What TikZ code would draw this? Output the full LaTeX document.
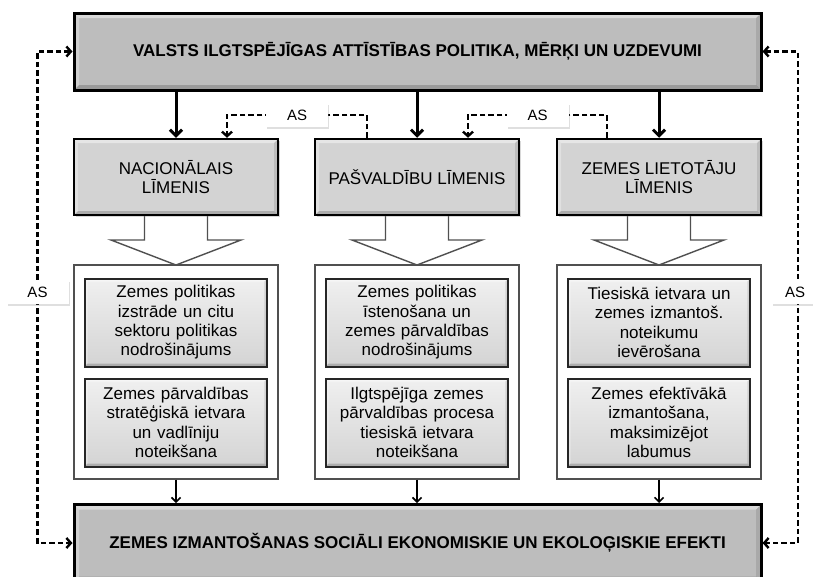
\documentclass[tikz,border=0pt]{standalone}
\usepackage{fontspec}
\setmainfont{Liberation Sans}
\usetikzlibrary{arrows.meta,shadows}
\definecolor{topgray}{HTML}{BDBDBD}
\definecolor{lvlgray}{HTML}{D3D3D3}
\definecolor{framegray}{HTML}{505050}
\tikzset{
  bevel/.style={path picture={
    \fill[white,opacity=.45] (path picture bounding box.north west) -- (path picture bounding box.north east) -- ([shift={(-#1,-#1)}]path picture bounding box.north east) -- ([shift={(#1,-#1)}]path picture bounding box.north west) -- cycle;
    \fill[white,opacity=.3] (path picture bounding box.north west) -- ([shift={(#1,-#1)}]path picture bounding box.north west) -- ([shift={(#1,#1)}]path picture bounding box.south west) -- (path picture bounding box.south west) -- cycle;
    \fill[black,opacity=.18] (path picture bounding box.south west) -- (path picture bounding box.south east) -- ([shift={(-#1,#1)}]path picture bounding box.south east) -- ([shift={(#1,#1)}]path picture bounding box.south west) -- cycle;
    \fill[black,opacity=.1] (path picture bounding box.north east) -- (path picture bounding box.south east) -- ([shift={(-#1,#1)}]path picture bounding box.south east) -- ([shift={(-#1,-#1)}]path picture bounding box.north east) -- cycle;
  }},
  mainbox/.style={draw=black, line width=3pt, fill=topgray, minimum width=687pt, minimum height=77pt,
    font=\bfseries\fontsize{17}{19}\selectfont, bevel=5pt,
    drop shadow={opacity=.35, shadow xshift=2pt, shadow yshift=-2pt}},
  lvlbox/.style={draw=black, line width=2.5pt, fill=lvlgray, minimum width=204pt, minimum height=76pt,
    align=center, font=\fontsize{17}{19.5}\selectfont, bevel=4pt,
    drop shadow={opacity=.3, shadow xshift=1.5pt, shadow yshift=-1.5pt}},
  innerbox/.style={draw=black!85, line width=2pt, top color=black!6, bottom color=black!17,
    minimum width=179pt, minimum height=88pt, text width=176pt, align=center,
    font=\fontsize{17}{19.3}\selectfont, bevel=3pt,
    drop shadow={opacity=.25, shadow xshift=1pt, shadow yshift=-1pt}},
  outerbox/.style={draw=framegray, line width=1.4pt, fill=white, minimum width=204pt, minimum height=214pt},
  asbox/.style={fill=white, minimum width=62pt, minimum height=24pt, inner sep=0pt,
    font=\fontsize{15}{16}\selectfont,
    drop shadow={opacity=.25, shadow xshift=1pt, shadow yshift=-1.5pt}},
  thickar/.style={line width=3pt, -{Straight Barb[length=6pt,width=12pt]}},
  dashar/.style={line width=2.4pt, dash pattern=on 5.5pt off 3pt, -{Straight Barb[length=4.5pt,width=10pt]}},
  dashboth/.style={line width=2.4pt, dash pattern=on 5.5pt off 3pt, {Straight Barb[length=4.5pt,width=10pt]}-{Straight Barb[length=4.5pt,width=10pt]}},
  thinar/.style={line width=1.6pt, -{Straight Barb[length=4.5pt,width=9pt]}},
  hollow/.style={draw=framegray, line width=1.4pt, fill=white}
}
\begin{document}
\begin{tikzpicture}[x=1pt,y=-1pt]
\clip (0,0) rectangle (813,576);
\fill[white] (0,0) rectangle (813,576);

% coordinates for AS labels
\coordinate (as1c) at (297,115);
\coordinate (as2c) at (537.5,115);
\coordinate (asLc) at (37.5,292);
\coordinate (asRc) at (798,292);

% outer white boxes
\node[outerbox] (out1) at (176,372) {};
\node[outerbox] (out2) at (417,372) {};
\node[outerbox] (out3) at (659,372) {};

% hollow arrows
\foreach \cx in {176,417,659}{
  \draw[hollow] (\cx-31.5,214) -- (\cx-31.5,240) -- (\cx-65,240) -- (\cx,265) -- (\cx+65,240) -- (\cx+31.5,240) -- (\cx+31.5,214);
}

% main boxes
\node[mainbox] (top) at (417.5,51.5) {VALSTS ILGTSPĒJĪGAS ATTĪSTĪBAS POLITIKA, MĒRĶI UN UZDEVUMI};
\node[mainbox] (bot) at (417.5,543) {ZEMES IZMANTOŠANAS SOCIĀLI EKONOMISKIE UN EKOLOĢISKIE EFEKTI};

% level boxes
\node[lvlbox] (lvl1) at (176,177) {NACIONĀLAIS\\LĪMENIS};
\node[lvlbox] (lvl2) at (417,177) {PAŠVALDĪBU LĪMENIS};
\node[lvlbox] (lvl3) at (659,177) {ZEMES LIETOTĀJU\\LĪMENIS};

% inner boxes
\node[innerbox] (a1) at (176,322.5) {Zemes politikas\\izstrāde un citu\\sektoru politikas\\nodrošinājums};
\node[innerbox] (a2) at (176,422.5) {Zemes pārvaldības\\stratēģiskā ietvara\\un vadlīniju\\noteikšana};
\node[innerbox] (b1) at (417,322.5) {Zemes politikas\\īstenošana un\\zemes pārvaldības\\nodrošinājums};
\node[innerbox] (b2) at (417,422.5) {Ilgtspējīga zemes\\pārvaldības procesa\\tiesiskā ietvara\\noteikšana};
\node[innerbox] (c1) at (659,322.5) {Tiesiskā ietvara un\\zemes izmantoš.\\noteikumu\\ievērošana};
\node[innerbox] (c2) at (659,422.5) {Zemes efektīvākā\\izmantošana,\\maksimizējot\\labumus};

% thick arrows
\draw[thickar] (top.south -| lvl1.north) -- (lvl1.north);
\draw[thickar] (top.south -| lvl2.north) -- (lvl2.north);
\draw[thickar] (top.south -| lvl3.north) -- (lvl3.north);

% thin arrows to bottom box
\draw[thinar] (out1.south) -- (bot.north -| out1.south);
\draw[thinar] (out2.south) -- (bot.north -| out2.south);
\draw[thinar] (out3.south) -- (bot.north -| out3.south);

% dashed feedback lines
\draw[dashar] ([xshift=-50pt]lvl2.north) |- (as1c) -| ([xshift=51pt]lvl1.north);
\draw[dashar] ([xshift=-52pt]lvl3.north) |- (as2c) -| ([xshift=51pt]lvl2.north);
\draw[dashboth] (top.west) -| (asLc) |- (bot.west);
\draw[dashboth] (top.east) -| (asRc) |- (bot.east);

% AS labels
\node[asbox] (as1) at (as1c) {AS};
\node[asbox] (as2) at (as2c) {AS};
\node[asbox] (asL) at (asLc) {AS};
\node[asbox, minimum width=46pt] (asR) at ([xshift=-3pt]asRc) {AS};
\end{tikzpicture}
\end{document}
